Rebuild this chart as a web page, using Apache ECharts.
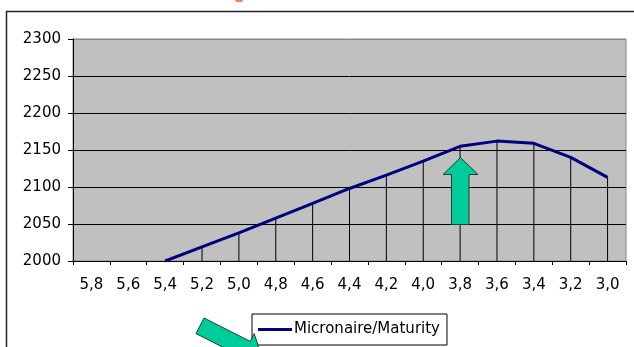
<!DOCTYPE html>
<html>
<head>
<meta charset="utf-8">
<script src="https://cdn.jsdelivr.net/npm/echarts@6/dist/echarts.min.js"></script>
<style>
  html, body { margin: 0; padding: 0; background: #fff; }
  #chart { width: 634px; height: 347px; }
</style>
</head>
<body>
<div id="chart"></div>
<script>
// Micronaire classes, read from coarse (left) to fine (right)
const categories = ['5,8', '5,6', '5,4', '5,2', '5,0', '4,8', '4,6', '4,4', '4,2', '4,0', '3,8', '3,6', '3,4', '3,2', '3,0'];
// Micronaire/Maturity curve values per class
const maturityValues = [null, null, 2000, 2019, 2038, 2058, 2078, 2098, 2116, 2135, 2155, 2162, 2159, 2140, 2113];
const seriesName = 'Micronaire/Maturity';
// Value axis range and step
const yMin = 2000, yMax = 2300, yStep = 50;

const FONT = 'DejaVu Sans';
const splitColors = [];
for (let v = yMin; v <= yMax; v += yStep) splitColors.push(v === yMax ? '#888888' : '#000000');

const chart = echarts.init(document.getElementById('chart'), null, { renderer: 'canvas' });

chart.setOption({
  animation: false,
  backgroundColor: '#ffffff',
  grid: {
    left: 73, top: 39, width: 553, height: 222,
    show: true, backgroundColor: '#C0C0C0', borderColor: '#888888', borderWidth: 1
  },
  xAxis: {
    type: 'category',
    data: categories,
    boundaryGap: true,
    axisLine: { lineStyle: { color: '#000', width: 1 } },
    axisTick: { show: true, length: 4, inside: false, lineStyle: { color: '#000' } },
    axisLabel: { color: '#000', fontFamily: FONT, fontSize: 15, margin: 17, interval: 0 },
    splitLine: { show: false }
  },
  yAxis: {
    type: 'value',
    min: yMin, max: yMax, interval: yStep,
    axisLine: { show: true, lineStyle: { color: '#000', width: 1 } },
    axisTick: { show: true, length: 5, lineStyle: { color: '#000' } },
    axisLabel: { color: '#000', fontFamily: FONT, fontSize: 15, margin: 12, formatter: (v) => String(v) },
    splitLine: { show: true, lineStyle: { color: splitColors, width: 1 } }
  },
  legend: {
    data: [{ name: seriesName, icon: 'rect' }],
    left: 252, top: 314,
    orient: 'horizontal',
    backgroundColor: '#ffffff',
    borderColor: '#000', borderWidth: 1, borderRadius: 0,
    padding: [7, 7, 7, 6],
    itemWidth: 34, itemHeight: 3,
    itemStyle: { color: '#000080', borderWidth: 0 },
    textStyle: { color: '#000', fontFamily: FONT, fontSize: 15, padding: [0, 0, 0, -3], lineHeight: 17 }
  },
  series: [
    {
      // drop lines from each point down to the category axis
      name: 'drop',
      type: 'bar',
      data: maturityValues,
      barWidth: 1,
      itemStyle: { color: '#000' },
      silent: true,
      z: 2
    },
    {
      name: seriesName,
      type: 'line',
      data: maturityValues,
      symbol: 'none',
      connectNulls: false,
      lineStyle: { color: '#000080', width: 3 },
      itemStyle: { color: '#000080' },
      z: 3
    }
  ],
  graphic: [
    {
      // outer chart frame
      type: 'rect', z: 0, silent: true,
      shape: { x: 6.5, y: 11.5, width: 700, height: 400 },
      style: { fill: 'none', stroke: '#222', lineWidth: 1.5 }
    },
    {
      type: 'rect', z: 1, silent: true,
      shape: { x: 235, y: -2, width: 8, height: 4, r: 2 },
      style: { fill: '#F08060' }
    },
    {
      // upward arrow pointing at the peak region
      type: 'polygon', z: 10, silent: true,
      shape: { points: [[460.5, 157.5], [478, 174.5], [469, 174.5], [469, 224.5], [451.5, 224.5], [451.5, 174.5], [443, 174.5]] },
      style: { fill: '#00CC99', stroke: '#1E3F35', lineWidth: 1 }
    },
    {
      // arrow pointing at the legend
      type: 'polygon', z: 10, silent: true,
      shape: { points: [[204, 318], [250.3, 341.4], [254.2, 333.6], [261.9, 357.1], [238.4, 364.8], [242.3, 357], [196, 333.6]] },
      style: { fill: '#00CC99', stroke: '#1E3F35', lineWidth: 1 }
    }
  ]
});
</script>
</body>
</html>
